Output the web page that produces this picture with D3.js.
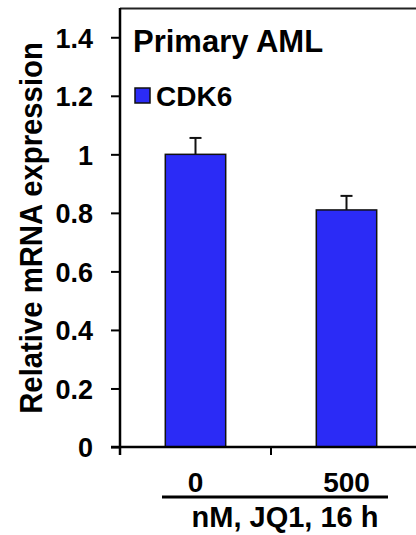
<!DOCTYPE html>
<style>
  body { margin: 0; background: #fff; }
  svg text { font-family: "Liberation Sans", Arial, sans-serif; font-weight: bold; fill: #000; }
</style>
<svg width="416" height="535"></svg>
<script src="https://d3js.org/d3.v7.min.js"></script>
<script>
  // data
  var categories = ["0", "500"];
  var values = [1.0, 0.81];
  var errors = [0.056, 0.048];
  var yTicks = [0, 0.2, 0.4, 0.6, 0.8, 1, 1.2, 1.4];
  var seriesName = "CDK6";
  var title = "Primary AML";
  var yLabel = "Relative mRNA expression";
  var xLabel = "nM, JQ1, 16 h";

  var svg = d3.select("svg");
  var plotLeft = 120, plotRight = 422, plotTop = 8, plotBottom = 447;

  var x = d3.scaleBand()
    .domain(categories)
    .range([plotLeft, plotRight])
    .paddingInner(0.6)
    .paddingOuter(0.3);

  var y = d3.scaleLinear()
    .domain([0, 1.5])
    .range([plotBottom, plotTop]);

  // top frame line
  svg.append("line")
    .attr("x1", plotLeft).attr("x2", 416)
    .attr("y1", plotTop + 0.5).attr("y2", plotTop + 0.5)
    .attr("stroke", "#222").attr("stroke-width", 2);

  // bars
  svg.selectAll("rect.bar")
    .data(values)
    .enter().append("rect")
    .attr("class", "bar")
    .attr("x", function(d, i) { return x(categories[i]); })
    .attr("y", function(d) { return y(d); })
    .attr("width", x.bandwidth())
    .attr("height", function(d) { return y(0) - y(d); })
    .attr("fill", "#2b2bf6")
    .attr("stroke", "#111")
    .attr("stroke-width", 1.5);

  // error bars
  var eb = svg.selectAll("g.err")
    .data(values)
    .enter().append("g")
    .attr("class", "err")
    .attr("stroke", "#111")
    .attr("stroke-width", 2);
  eb.append("line")
    .attr("x1", function(d, i) { return x(categories[i]) + x.bandwidth() / 2; })
    .attr("x2", function(d, i) { return x(categories[i]) + x.bandwidth() / 2; })
    .attr("y1", function(d) { return y(d); })
    .attr("y2", function(d, i) { return y(d + errors[i]); });
  eb.append("line")
    .attr("x1", function(d, i) { return x(categories[i]) + x.bandwidth() / 2 - 6; })
    .attr("x2", function(d, i) { return x(categories[i]) + x.bandwidth() / 2 + 6; })
    .attr("y1", function(d, i) { return y(d + errors[i]); })
    .attr("y2", function(d, i) { return y(d + errors[i]); });

  // y axis
  var yAxis = svg.append("g")
    .attr("transform", "translate(" + plotLeft + ",0)")
    .call(d3.axisLeft(y).tickValues(yTicks).tickSize(9).tickPadding(18)
      .tickFormat(function(d) { return String(d); }));
  yAxis.select(".domain").attr("d", "M0," + plotTop + "V" + (plotBottom + 8)).attr("stroke-width", 2.5);
  yAxis.selectAll(".tick line").attr("stroke-width", 2);
  yAxis.selectAll(".tick text")
    .attr("font-size", 27).attr("font-family", null).attr("dy", "0.36em");

  // x axis: ticks on category boundaries
  var xAxis = svg.append("g")
    .attr("transform", "translate(0," + plotBottom + ")");
  xAxis.append("line")
    .attr("x1", plotLeft - 9).attr("x2", 416)
    .attr("stroke", "#000").attr("stroke-width", 2.5);
  xAxis.selectAll("line.bound")
    .data(categories.slice(1))
    .enter().append("line")
    .attr("class", "bound")
    .attr("x1", function(d) { return x(d) - x.step() * x.paddingInner() / 2; })
    .attr("x2", function(d) { return x(d) - x.step() * x.paddingInner() / 2; })
    .attr("y1", 0).attr("y2", 8)
    .attr("stroke", "#000").attr("stroke-width", 2);
  xAxis.selectAll("text.cat")
    .data(categories)
    .enter().append("text")
    .attr("class", "cat")
    .attr("x", function(d) { return x(d) + x.bandwidth() / 2; })
    .attr("y", 45)
    .attr("text-anchor", "middle")
    .attr("font-size", 28)
    .text(function(d) { return d; });

  // underline and x label
  svg.append("line")
    .attr("x1", 162).attr("x2", 388)
    .attr("y1", 497).attr("y2", 497)
    .attr("stroke", "#000").attr("stroke-width", 3);
  svg.append("text")
    .attr("x", 285).attr("y", 527)
    .attr("text-anchor", "middle")
    .attr("font-size", 29)
    .text(xLabel);

  // y label
  svg.append("text")
    .attr("transform", "translate(42,228) scale(1.1,1) rotate(-90)")
    .attr("text-anchor", "middle")
    .attr("font-size", 29.3)
    .text(yLabel);

  // title and legend
  svg.append("text")
    .attr("x", 133).attr("y", 52)
    .attr("font-size", 31)
    .text(title);
  svg.append("rect")
    .attr("x", 135).attr("y", 88)
    .attr("width", 15).attr("height", 15)
    .attr("fill", "#2b2bf6").attr("stroke", "#111").attr("stroke-width", 1.5);
  svg.append("text")
    .attr("x", 156).attr("y", 106)
    .attr("font-size", 28)
    .text(seriesName);
</script>
